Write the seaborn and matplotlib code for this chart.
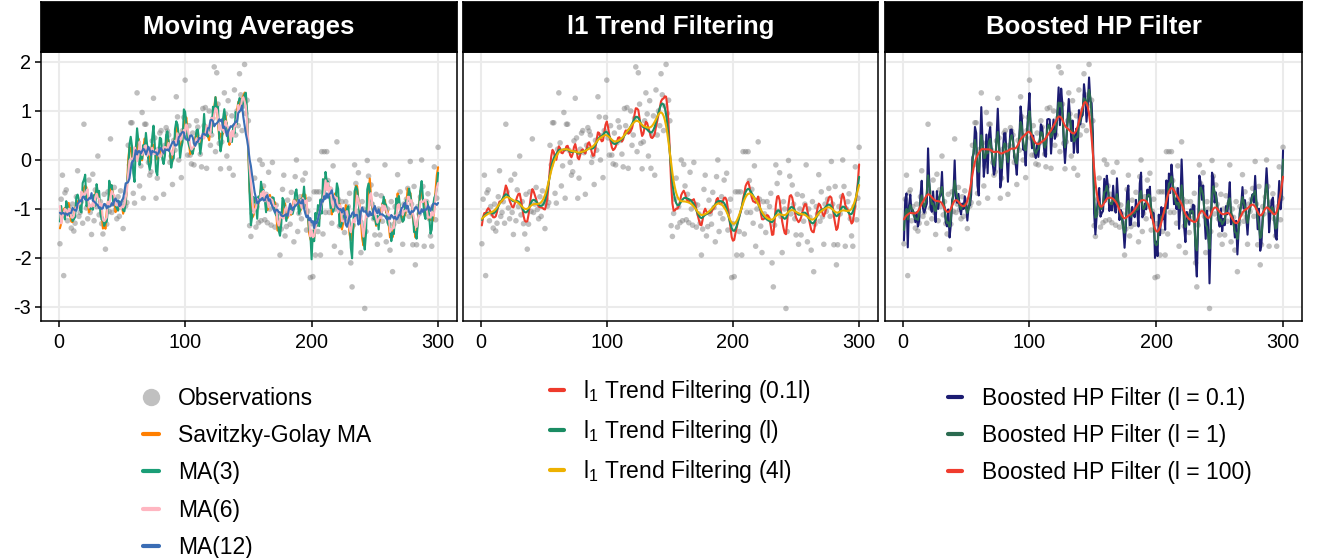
import numpy as np
import pandas as pd
import matplotlib
matplotlib.use("Agg")
import matplotlib.pyplot as plt
from matplotlib.lines import Line2D
import seaborn as sns

# observations (t = 1..300)
obs = [
    -1.71, -0.80, -0.31, -2.36, -0.67, -0.61, -1.24, -0.95, -1.10, -1.39,
    -0.90, -1.45, -1.29, -0.75, -0.22, -1.15, -1.07, -0.85, -1.29, 0.73,
    -0.65, -0.98, -1.20, -0.41, -1.07, -1.52, -0.29, -1.24, -0.61, -0.95,
    0.08, -1.12, -0.85, -1.30, -1.51, -0.70, -1.82, -1.31, -0.65, -1.05,
    0.43, -1.07, -0.90, -0.56, -1.01, -1.20, -0.75, -1.15, -0.63, -0.88,
    -1.40, -0.80, -0.94, -0.87, 0.30, -0.10, 0.76, 0.76, -0.68, -0.88,
    0.22, 1.37, 0.35, -0.53, -0.12, 0.97, -0.78, 0.73, 0.73, 0.20,
    -0.05, -0.31, -0.24, 0.39, 1.26, 0.45, -0.78, -0.37, 0.22, 0.55,
    0.60, 0.15, -0.70, 0.30, 0.66, 0.59, 0.51, -0.05, 0.08, -0.50,
    0.40, 0.20, 1.29, 0.88, 0.00, 0.50, -0.36, 0.60, 0.87, 1.63,
    0.45, 0.10, 0.70, 0.10, -0.08, 0.55, -0.10, 0.35, 0.80, 0.67,
    0.40, 0.12, -0.14, 1.05, 0.70, 1.07, -0.17, 0.60, 1.00, 0.30,
    0.51, 0.85, 1.90, 0.17, 1.78, 1.14, 0.34, -0.18, 0.37, 0.80,
    1.37, 0.94, 0.08, 1.21, -0.17, 0.51, 0.90, -0.31, 1.43, 0.51,
    1.00, 0.70, 1.76, 1.33, 0.60, 1.10, 1.95, 0.95, 1.22, 0.80,
    -1.34, -1.56, -1.09, -0.80, -0.37, -1.37, -0.95, -1.28, 0.00, -1.24,
    -0.09, -0.53, -1.22, -0.70, -1.28, -0.25, -1.00, -1.33, -0.05, -0.90,
    -1.37, -0.92, -1.10, -1.29, -1.94, -1.41, -0.60, -0.31, -1.55, -1.36,
    -0.82, -1.10, -1.31, -0.66, -0.97, -1.67, -0.34, 0.00, -1.46, -1.09,
    -0.75, -1.20, -0.41, -0.95, -0.27, -1.43, -1.05, -0.80, -2.40, -1.30,
    -2.38, -0.65, -1.94, -0.65, -1.46, -0.65, -1.94, 0.17, -1.51, 0.17,
    -1.07, 0.17, -0.42, -1.07, -0.60, -1.29, -0.12, -1.76, -1.00, 0.37,
    -0.80, -1.35, -1.89, -0.85, -1.10, -1.48, -0.85, -1.20, -0.95, -0.68,
    -2.10, -2.59, -1.33, -0.10, -0.48, -1.05, -0.26, -1.15, -1.89, -0.85,
    -1.00, -3.03, -1.46, -0.01, -0.33, -1.10, -0.51, -0.90, -1.20, -1.53,
    -0.70, -1.72, -1.00, -1.53, -0.73, -1.25, -0.90, -0.10, -1.67, -1.00,
    -1.17, -1.84, -0.85, -2.28, -1.31, -0.95, -1.10, -0.30, -1.25, -0.65,
    -1.16, -1.72, -0.90, -1.05, -0.80, -0.58, -1.15, -0.03, -0.90, -1.73,
    -0.54, -2.14, -1.73, -0.95, -1.10, -0.75, 0.00, -0.54, -1.76, -1.00,
    -0.85, -0.69, -1.20, -1.55, -1.76, -0.95, -0.14, -1.22, -0.78, 0.26,
]
t = np.arange(1, len(obs) + 1)
y = np.array(obs)

panel_titles = ["Moving Averages", "l1 Trend Filtering", "Boosted HP Filter"]
ma_labels = ["Savitzky-Golay MA", "MA(3)", "MA(6)", "MA(12)"]
ma_colors = ["#FF7F00", "#1B9E77", "#FFB6C1", "#3A6DB5"]
tf_labels = ["l$_1$ Trend Filtering (0.1l)", "l$_1$ Trend Filtering (l)", "l$_1$ Trend Filtering (4l)"]
tf_colors = ["#EE3A2C", "#1A8C63", "#EDB100"]
tf_lambdas = [4, 40, 150]
bhp_labels = ["Boosted HP Filter (l = 0.1)", "Boosted HP Filter (l = 1)", "Boosted HP Filter (l = 100)"]
bhp_colors = ["#1C1C72", "#2B6B50", "#F03C2E"]
bhp_lambdas = [0.1, 1, 100]
bhp_iters = [1, 1, 2]


def hp(v, lam):
    n = len(v)
    D = np.diff(np.eye(n), 2, axis=0)
    return np.linalg.solve(np.eye(n) + lam * D.T @ D, v)


def boosted_hp(v, lam, iters=3):
    trend = np.zeros_like(v)
    resid = v.copy()
    for _ in range(iters):
        f = hp(resid, lam)
        trend = trend + f
        resid = v - trend
    return trend


def savgol(v, window=9, order=3):
    m = window // 2
    A = np.vander(np.arange(-m, m + 1), order + 1, increasing=True)
    c = np.linalg.pinv(A)[0]
    padded = np.pad(v, m, mode="edge")
    return np.convolve(padded, c[::-1], mode="valid")


s = pd.Series(y)
ma_lines = [savgol(y)] + [s.rolling(k, center=True, min_periods=1).mean().values for k in (3, 6, 12)]
tf_lines = [hp(y, lam) for lam in tf_lambdas]
bhp_lines = [boosted_hp(y, lam, it) for lam, it in zip(bhp_lambdas, bhp_iters)]

sns.set_theme(style="white")
plt.rcParams["font.family"] = ["Liberation Sans", "DejaVu Sans"]
plt.rcParams["text.color"] = "black"
plt.rcParams["axes.unicode_minus"] = False
plt.rcParams["mathtext.fontset"] = "custom"
plt.rcParams["mathtext.rm"] = "Liberation Sans"
plt.rcParams["mathtext.default"] = "regular"

W, H = 1324, 558
fig = plt.figure(figsize=(W / 100, H / 100), dpi=100)
lefts = [41, 463, 885]
widths = [416, 415, 417]

groups = [
    (ma_lines, ma_labels, ma_colors),
    (tf_lines, tf_labels, tf_colors),
    (bhp_lines, bhp_labels, bhp_colors),
]

for i in range(3):
    ax = fig.add_axes([lefts[i] / W, 1 - 321 / H, widths[i] / W, 269 / H])
    ax.set_axisbelow(True)
    ax.grid(True, color="#EBEBEB", linewidth=1.5)
    sns.scatterplot(x=t, y=y, ax=ax, color="#808080", alpha=0.5, s=16,
                    edgecolor="none", legend=False, zorder=2)
    lines, labels, colors = groups[i]
    for vals, lab, col in zip(lines, labels, colors):
        sns.lineplot(x=t, y=vals, ax=ax, color=col, linewidth=1.5, zorder=3)
    ax.set_xlim(-13.95, 314.95)
    ax.set_ylim(-3.286, 2.204)
    ax.set_xticks([0, 100, 200, 300])
    ax.set_yticks([-3, -2, -1, 0, 1, 2])
    ax.set_xlabel("")
    ax.set_ylabel("")
    for sp in ax.spines.values():
        sp.set_visible(True)
        sp.set_color("black")
        sp.set_linewidth(1.1)
    ax.tick_params(axis="x", bottom=True, length=4, width=1.1, pad=5,
                   labelsize=14.3, color="black", labelcolor="black")
    if i == 0:
        ax.tick_params(axis="y", left=True, length=4, width=1.1, pad=3,
                       labelsize=14.3, color="black", labelcolor="black")
    else:
        ax.tick_params(axis="y", left=False, labelleft=False)

    strip = fig.add_axes([lefts[i] / W, 1 - 52 / H, widths[i] / W, 50 / H])
    strip.set_facecolor("black")
    strip.set_xticks([])
    strip.set_yticks([])
    for sp in strip.spines.values():
        sp.set_color("black")
    strip.text(0.5, 0.5, panel_titles[i], color="white", fontsize=18.5,
               fontweight="bold", ha="center", va="center", transform=strip.transAxes)

# legends below each panel
obs_handle = Line2D([], [], marker="o", linestyle="", color="#C0C0C0", markersize=11.5)
h1 = [obs_handle] + [Line2D([], [], color=c, linewidth=3) for c in ma_colors]
fig.legend(h1, ["Observations"] + ma_labels, loc="upper left",
           bbox_to_anchor=(143 / W, 1 - 387 / H), frameon=False, fontsize=16.5,
           handlelength=0.7, handletextpad=0.83, labelspacing=0.62,
           borderpad=0, borderaxespad=0)
h2 = [Line2D([], [], color=c, linewidth=3) for c in tf_colors]
fig.legend(h2, tf_labels, loc="upper left",
           bbox_to_anchor=(550 / W, 1 - 378 / H), frameon=False, fontsize=16.5,
           handlelength=0.62, handletextpad=0.83, labelspacing=0.56,
           borderpad=0, borderaxespad=0)
h3 = [Line2D([], [], color=c, linewidth=3) for c in bhp_colors]
fig.legend(h3, bhp_labels, loc="upper left",
           bbox_to_anchor=(948 / W, 1 - 387 / H), frameon=False, fontsize=16.5,
           handlelength=0.62, handletextpad=0.87, labelspacing=0.62,
           borderpad=0, borderaxespad=0)

fig.savefig("out.png", dpi=100)
